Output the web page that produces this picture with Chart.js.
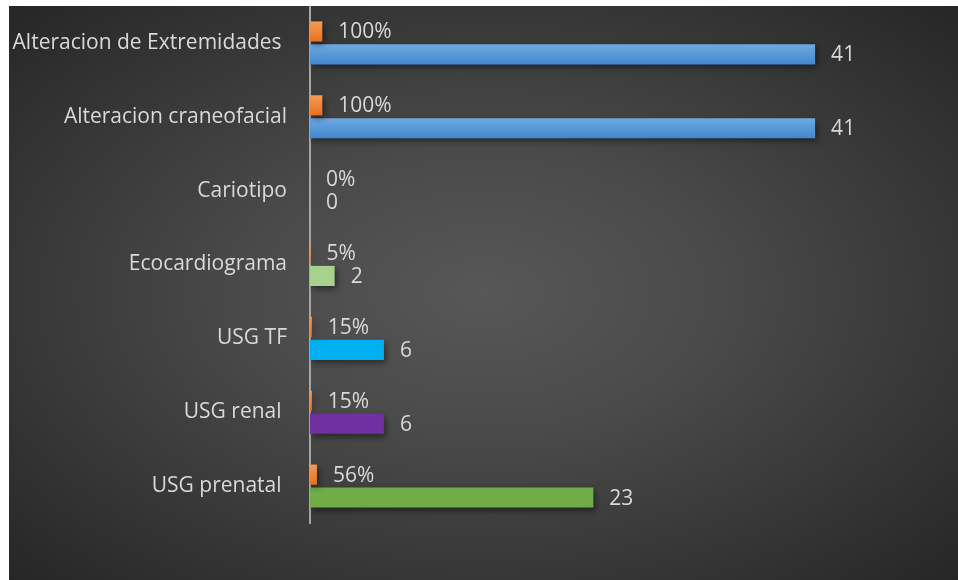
<!DOCTYPE html>
<html>
<head>
<meta charset="utf-8">
<script src="https://cdn.jsdelivr.net/npm/chart.js@4.4.1/dist/chart.umd.min.js"></script>
<style>
    html, body { margin: 0; padding: 0; background: #ffffff; }
    #marco {
        position: absolute;
        left: 9px;
        top: 6px;
        width: 949px;
        height: 574px;
        background: radial-gradient(ellipse farthest-corner at 50% 50%, #575757 0%, #4a4a4a 35%, #262626 100%);
    }
</style>
</head>
<body>
<div id="marco"><canvas id="estudiosChart"></canvas></div>
<script>
// Datos de estudios
const categorias = ['Alteracion de Extremidades ', 'Alteracion craneofacial', 'Cariotipo', 'Ecocardiograma', 'USG TF', 'USG renal ', 'USG prenatal '];
const porcentajes = [1, 1, 0, 0.05, 0.15, 0.15, 0.56];
const casos = [41, 41, 0, 2, 6, 6, 23];
const coloresCasos = ['#5b9bd5', '#5b9bd5', '#a5a5a5', '#a9d18e', '#00b0f0', '#7030a0', '#70ad47'];

const fuente = "'Open Sans', 'Noto Sans', sans-serif";

// degradado vertical por barra (se calcula con la posición de la barra)
function degradado(ctx, arriba, abajo, plano) {
    const el = ctx.element;
    if (!el || el.y == null || el.height == null) return plano;
    const c = ctx.chart.ctx;
    const g = c.createLinearGradient(0, el.y - el.height / 2, 0, el.y + el.height / 2);
    g.addColorStop(0, arriba);
    g.addColorStop(1, abajo);
    return g;
}

// sombra suave debajo de las barras
const sombraBarras = {
    id: 'sombraBarras',
    beforeDatasetsDraw(chart) {
        const c = chart.ctx;
        c.save();
        c.shadowColor = 'rgba(0,0,0,0.45)';
        c.shadowBlur = 6;
        c.shadowOffsetX = 2;
        c.shadowOffsetY = 3;
    },
    afterDatasetsDraw(chart) {
        chart.ctx.restore();
    }
};

// etiquetas de valor al final de cada barra
const etiquetas = {
    id: 'etiquetas',
    afterDatasetsDraw(chart) {
        const c = chart.ctx;
        c.save();
        c.font = '21px ' + fuente;
        c.fillStyle = '#d9d9d9';
        c.textAlign = 'left';
        c.textBaseline = 'middle';
        chart.data.datasets.forEach(function(ds, i) {
            const meta = chart.getDatasetMeta(i);
            meta.data.forEach(function(bar, j) {
                const v = ds.data[j];
                const txt = i === 0 ? Math.round(v * 100) + '%' : String(v);
                c.fillText(txt, bar.x + 16, bar.y + 1);
            });
        });
        c.restore();
    }
};

const chart = new Chart(document.getElementById('estudiosChart'), {
    type: 'bar',
    data: {
        labels: categorias,
        datasets: [{
            label: 'Porcentaje',
            data: porcentajes,
            backgroundColor: function(ctx) {
                return degradado(ctx, '#f59b55', '#e8701f', '#ed7d31');
            },
            categoryPercentage: 0.62,
            barPercentage: 0.88
        }, {
            label: 'Casos',
            data: casos,
            backgroundColor: function(ctx) {
                const i = ctx.dataIndex;
                if (i < 2) return degradado(ctx, '#6fa9df', '#4187cf', coloresCasos[i]);
                return coloresCasos[i];
            },
            categoryPercentage: 0.62,
            barPercentage: 0.88
        }]
    },
    options: {
        indexAxis: 'y',
        responsive: true,
        maintainAspectRatio: false,
        animation: false,
        layout: {
            padding: { top: 0, right: 32, bottom: 57, left: 0 }
        },
        scales: {
            x: {
                display: false,
                min: 0,
                max: 50
            },
            y: {
                grid: { display: false },
                border: { display: true, color: '#a6a6a6', width: 2 },
                ticks: {
                    color: '#d9d9d9',
                    padding: 15,
                    font: { size: 21, family: fuente }
                },
                afterFit: function(scale) {
                    scale.width = 301;
                    scale.paddingTop = 0;
                    scale.paddingBottom = 0;
                }
            }
        },
        plugins: {
            legend: { display: false },
            tooltip: { enabled: false }
        }
    },
    plugins: [sombraBarras, etiquetas]
});

// segunda pasada para que los degradados conozcan la posición de cada barra
chart.update('none');
</script>
</body>
</html>
